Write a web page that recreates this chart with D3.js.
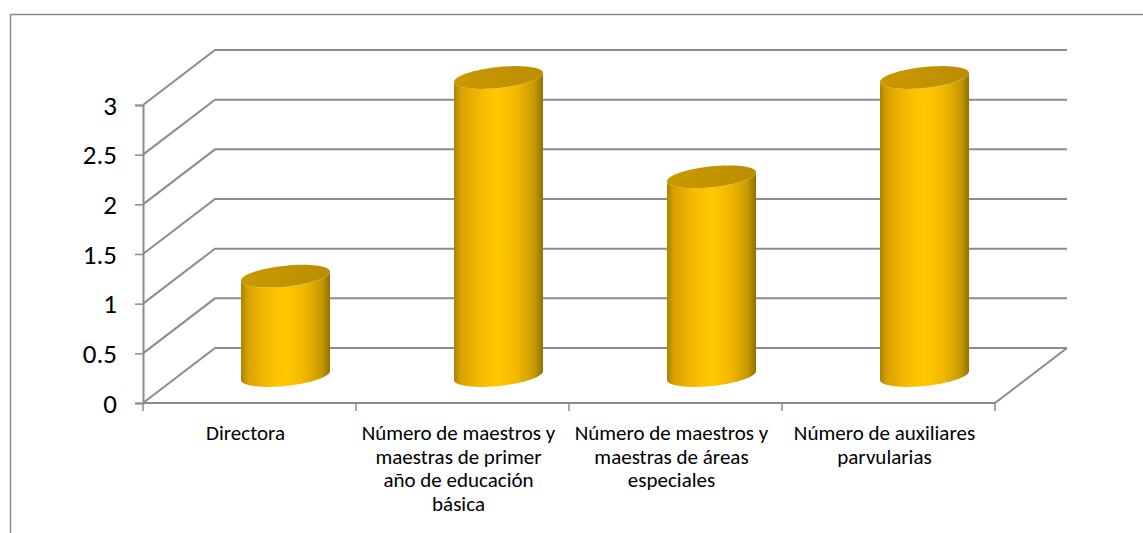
<!DOCTYPE html>
<html>
<head>
<meta charset="utf-8">
<script src="https://cdn.jsdelivr.net/npm/d3@7"></script>
<style>
  body { margin: 0; background: #fff; }
  svg text { font-family: Calibri, Carlito, Lato, sans-serif; fill: #000; }
  .y-axis text { font-size: 27px; }
</style>
</head>
<body>
<svg id="chart" width="1143" height="533"></svg>
<script>
// data
const categories = ['Directora', 'Número de maestros y maestras de primer año de educación básica',
    'Número de maestros y maestras de áreas especiales', 'Número de auxiliares parvularias'];
const categoryLines = [
    ['Directora'],
    ['Número de maestros y', 'maestras de primer', 'año de educación', 'básica'],
    ['Número de maestros y', 'maestras de áreas', 'especiales'],
    ['Número de auxiliares', 'parvularias']
];
const values = [1, 3, 2, 3];
const yTicks = [0, 0.5, 1, 1.5, 2, 2.5, 3];

const svg = d3.select('#chart');
const W = 1143, H = 533;

const DIM = {
    left: 143, right: 995, top: 105, bottom: 403,
    depthX: 72, depthY: -55
};
const gridColor = '#8c8c8c';

// chart border
svg.append('rect')
    .attr('x', 10.5).attr('y', 14.5)
    .attr('width', W).attr('height', H)
    .attr('fill', 'none').attr('stroke', '#8a8a8a').attr('stroke-width', 1.5);

const x = d3.scaleBand().domain(categories).range([DIM.left, DIM.right]);
const y = d3.scaleLinear().domain([0, 3]).range([DIM.bottom, DIM.top]);

const walls = svg.append('g').attr('stroke', gridColor).attr('stroke-width', 2).attr('fill', 'none');

// back wall gridlines + side wall diagonals
yTicks.forEach(t => {
    walls.append('path')
        .attr('d', d3.line()([
            [DIM.left, y(t)],
            [DIM.left + DIM.depthX, y(t) + DIM.depthY],
            [DIM.right + DIM.depthX, y(t) + DIM.depthY]
        ]));
});

// floor front + right edges
walls.append('path')
    .attr('d', d3.line()([
        [DIM.left, y(0)],
        [DIM.right, y(0)],
        [DIM.right + DIM.depthX, y(0) + DIM.depthY]
    ]));

// vertical axis
const yAxis = d3.axisLeft(y).tickValues(yTicks).tickSize(8).tickPadding(18).tickFormat(d3.format('~g'));
const yAxisG = svg.append('g')
    .attr('class', 'y-axis')
    .attr('transform', `translate(${DIM.left},0)`)
    .call(yAxis)
    .attr('font-size', null)
    .attr('font-family', null);
yAxisG.select('.domain').attr('stroke', gridColor).attr('stroke-width', 2);
yAxisG.selectAll('.tick line').attr('stroke', gridColor).attr('stroke-width', 1.5);
yAxisG.selectAll('.tick text').attr('dy', '0.34em').attr('fill', '#000');

// category tick marks
const catTicks = categories.map(c => x(c)).concat([DIM.right]);
svg.append('g').selectAll('line').data(catTicks).join('line')
    .attr('x1', d => d).attr('x2', d => d)
    .attr('y1', y(0)).attr('y2', y(0) + 8)
    .attr('stroke', gridColor).attr('stroke-width', 1.5);

// category labels
const labels = svg.append('g');
categories.forEach((c, i) => {
    const t = labels.append('text')
        .attr('text-anchor', 'middle')
        .style('font-size', '21px');
    categoryLines[i].forEach((ln, j) => {
        t.append('tspan')
            .attr('x', x(c) + x.bandwidth() / 2 - 4)
            .attr('y', 440 + j * 23.5)
            .text(ln);
    });
});

// cylinder gradients
const defs = svg.append('defs');
const body = defs.append('linearGradient').attr('id', 'cylBody')
    .attr('x1', '0%').attr('x2', '100%').attr('y1', '0%').attr('y2', '0%');
[[0, '#a88300'], [0.08, '#d9a200'], [0.3, '#f5bb00'], [0.5, '#ffc900'],
 [0.72, '#f0b600'], [0.9, '#c99a00'], [1, '#937100']].forEach(([o, c]) => {
    body.append('stop').attr('offset', o).attr('stop-color', c);
});
const topGrad = defs.append('linearGradient').attr('id', 'cylTop')
    .attr('x1', '0%').attr('x2', '100%').attr('y1', '0%').attr('y2', '0%');
[[0, '#c99900'], [1, '#bb8e00']].forEach(([o, c]) => {
    topGrad.append('stop').attr('offset', o).attr('stop-color', c);
});

// cylinders
const rx = 44.5, ry = 10.5, shear = -0.1;
const pt = (cx, cy, t) => [cx + rx * Math.cos(t), cy + ry * Math.sin(t) + shear * rx * Math.cos(t)];
const line = d3.line();
const bars = svg.append('g');

values.forEach((v, i) => {
    const cx = x(categories[i]) + x.bandwidth() / 2 + DIM.depthX / 2;
    const yb = y(0) + DIM.depthY / 2;
    const yt = y(v) + DIM.depthY / 2;

    // body: left side, bottom front arc, right side, top front arc back
    const pts = [];
    pts.push(pt(cx, yt, Math.PI));
    d3.range(0, 61).forEach(k => pts.push(pt(cx, yb, Math.PI - Math.PI * k / 60)));
    d3.range(0, 61).forEach(k => pts.push(pt(cx, yt, Math.PI * k / 60)));
    bars.append('path')
        .attr('d', line(pts) + 'Z')
        .attr('fill', 'url(#cylBody)');

    const topPts = d3.range(0, 121).map(k => pt(cx, yt, 2 * Math.PI * k / 120));
    bars.append('path')
        .attr('d', line(topPts) + 'Z')
        .attr('fill', 'url(#cylTop)');
});
</script>
</body>
</html>
